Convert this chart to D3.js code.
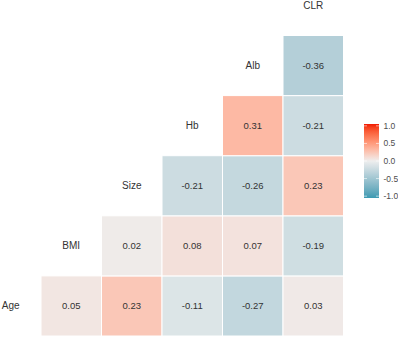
<!DOCTYPE html>
<html>
<head>
<meta charset="utf-8">
<script src="https://cdn.jsdelivr.net/npm/d3@7"></script>
<style>
  html, body { margin: 0; padding: 0; background: #ffffff; }
  svg { display: block; font-family: "Liberation Sans", Arial, sans-serif; }
</style>
</head>
<body>
<svg id="chart" width="398" height="339"></svg>
<script>
// Variables (diagonal labels), bottom-left to top-right
const variables = ["Age", "BMI", "Size", "Hb", "Alb", "CLR"];
// Lower-triangle correlations: rowVar x colVar
const rowVars = ["Age", "Age", "Age", "Age", "Age",
                 "BMI", "BMI", "BMI", "BMI",
                 "Size", "Size", "Size",
                 "Hb", "Hb",
                 "Alb"];
const colVars = ["BMI", "Size", "Hb", "Alb", "CLR",
                 "Size", "Hb", "Alb", "CLR",
                 "Hb", "Alb", "CLR",
                 "Alb", "CLR",
                 "CLR"];
const corrValues = [0.05, 0.23, -0.11, -0.27, 0.03,
                    0.02, 0.08, 0.07, -0.19,
                    -0.21, -0.26, 0.23,
                    0.31, -0.21,
                    -0.36];
const legendTicks = [1.0, 0.5, 0.0, -0.5, -1.0];

const svg = d3.select("#chart");

const x = d3.scaleBand().domain(variables).range([-19.5, 343.5]).padding(0);
const y = d3.scaleBand().domain(variables.slice().reverse()).range([-24.6, 336]).padding(0);

const lowC = "#3B9AB2", midC = "#EEEEEE", highC = "#F21A00";
const color = d3.scaleLinear()
  .domain([-1, 0, 1])
  .range([lowC, midC, highC])
  .interpolate(d3.interpolateLab);

const cells = corrValues.map((v, i) => ({ r: rowVars[i], c: colVars[i], v }));

svg.append("g").selectAll("rect")
  .data(cells)
  .join("rect")
  .attr("x", d => x(d.c))
  .attr("y", d => y(d.r))
  .attr("width", x.bandwidth())
  .attr("height", y.bandwidth())
  .attr("fill", d => color(d.v))
  .attr("stroke", "#ffffff")
  .attr("stroke-width", 1);

svg.append("g").selectAll("text")
  .data(cells)
  .join("text")
  .attr("x", d => x(d.c) + x.bandwidth() / 2)
  .attr("y", d => y(d.r) + y.bandwidth() / 2)
  .attr("text-anchor", "middle")
  .attr("dominant-baseline", "central")
  .attr("font-size", 9.5)
  .attr("fill", "#333333")
  .text(d => d.v.toFixed(2));

svg.append("g").selectAll("text")
  .data(variables)
  .join("text")
  .attr("x", d => x(d) + x.bandwidth() / 2)
  .attr("y", d => y(d) + y.bandwidth() / 2)
  .attr("text-anchor", "middle")
  .attr("dominant-baseline", "central")
  .attr("font-size", 10)
  .attr("fill", "#333333")
  .text(d => d);

// Legend colour bar
const barX = 364, barW = 15, barTop = 124, barBot = 198;
const inset = (barBot - barTop) / 40;
const ly = d3.scaleLinear().domain([1, -1]).range([barTop + inset, barBot - inset]);

const defs = svg.append("defs");
const grad = defs.append("linearGradient")
  .attr("id", "lg").attr("x1", 0).attr("y1", 0).attr("x2", 0).attr("y2", 1);
d3.range(0, 21).forEach(i => {
  const t = i / 20;
  grad.append("stop").attr("offset", t).attr("stop-color", color(1 - 2 * t));
});

svg.append("rect")
  .attr("x", barX).attr("y", barTop)
  .attr("width", barW).attr("height", barBot - barTop)
  .attr("fill", "url(#lg)");

const lg = svg.append("g");
lg.selectAll("line.tl")
  .data(legendTicks)
  .join("line")
  .attr("x1", barX).attr("x2", barX + 3)
  .attr("y1", d => ly(d)).attr("y2", d => ly(d))
  .attr("stroke", "#ffffff").attr("stroke-width", 0.6);
lg.selectAll("line.tr")
  .data(legendTicks)
  .join("line")
  .attr("x1", barX + barW - 3).attr("x2", barX + barW)
  .attr("y1", d => ly(d)).attr("y2", d => ly(d))
  .attr("stroke", "#ffffff").attr("stroke-width", 0.6);
lg.selectAll("text")
  .data(legendTicks)
  .join("text")
  .attr("x", 383.5)
  .attr("y", d => ly(d))
  .attr("dominant-baseline", "central")
  .attr("font-size", 8.5)
  .attr("fill", "#4d4d4d")
  .text(d => d3.format(".1f")(d).replace("−", "-"));
</script>
</body>
</html>
